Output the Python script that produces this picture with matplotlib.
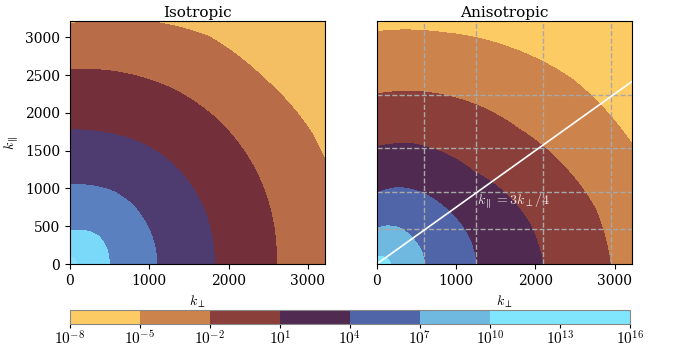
import numpy as np
import matplotlib
matplotlib.use("Agg")
import matplotlib.pyplot as plt

plt.rcParams["font.family"] = "serif"
plt.rcParams["mathtext.fontset"] = "cm"

# ── Dati ─────────────────────────────────────────────────────────
K_MAX = 3217.0
ANGLES = [0, 15, 30, 45, 60, 75, 90]  # gradi, angolo polare nel piano (k_perp, k_par)

# Isotropico: raggio dei bordi tra le regioni (dall'interno verso l'esterno)
iso_radii = [
    [75, 80, 85, 85, 85, 85, 80],
    [492, 500, 508, 515, 495, 462, 441],
    [1094, 1094, 1098, 1110, 1105, 1072, 1045],
    [1818, 1830, 1843, 1852, 1836, 1795, 1772],
    [2600, 2625, 2650, 2665, 2655, 2615, 2570],
    [3500, 3490, 3505, 3465, 3480, 3340, 3175],
]
iso_colors = ["#F4BE62", "#B86C48", "#74303A", "#4E3B70", "#5B80C0", "#7AD8F8", "#86E2FC"]

# Anisotropico: bordi ai livelli log10 = 10, 7, 4, 1, -2, -5
aniso_radii = [
    [170, 165, 150, 130, 110, 97, 90],
    [599, 590, 572, 564, 558, 522, 472],
    [1253, 1218, 1170, 1127, 1100, 1050, 935],
    [2097, 2005, 1870, 1730, 1695, 1650, 1552],
    [2946, 2850, 2675, 2530, 2445, 2355, 2249],
    [3750, 3680, 3560, 3470, 3315, 3170, 3073],
]
aniso_bounds = [10, 7, 4, 1, -2, -5]
cbar_levels = [-8, -5, -2, 1, 4, 7, 10, 13, 16]
aniso_colors = ["#FDCB64", "#CC834C", "#8B3F3A", "#502A50", "#5065A8", "#6FB8E0", "#80E6FD", "#80E6FD"]

# griglia tratteggiata (incroci dei contorni con gli assi)
grid_kperp = [600, 1255, 2100, 2950]
grid_kpar = [470, 950, 1535, 2235]


def build_field(rr, th, radii, vals, v_center, v_out, r_out=6000.0):
    """Campo interpolato linearmente in r tra i bordi letti."""
    rb = [np.zeros_like(rr)] + [np.interp(th, ANGLES, rad) for rad in radii] + [np.full_like(rr, r_out)]
    vb = [v_center] + list(vals) + [v_out]
    z = np.full_like(rr, v_out)
    for k in range(len(rb) - 1):
        m = (rr >= rb[k]) & (rr < rb[k + 1])
        f = (rr - rb[k]) / (rb[k + 1] - rb[k])
        z = np.where(m, vb[k] + f * (vb[k + 1] - vb[k]), z)
    return z


kx = np.linspace(0, K_MAX, 600)
ky = np.linspace(0, K_MAX, 600)
KX, KY = np.meshgrid(kx, ky)
RR = np.hypot(KX, KY)
TH = np.degrees(np.arctan2(KY, KX))

iso_vals = [5.5, 4.5, 3.5, 2.5, 1.5, 0.5]
z_iso = build_field(RR, TH, iso_radii, iso_vals, 7.0, -1.0)
z_aniso = build_field(RR, TH, aniso_radii, aniso_bounds, 16.0, -8.0)

fig = plt.figure(figsize=(6.73, 3.47), dpi=100)
ax1 = fig.add_axes([0.104, 0.239, 0.379, 0.701])
ax2 = fig.add_axes([0.5597, 0.239, 0.379, 0.701])
cax = fig.add_axes([0.104, 0.066, 0.832, 0.0403])

ax1.contourf(KX, KY, z_iso, levels=[-1, 0.5, 1.5, 2.5, 3.5, 4.5, 5.5, 7], colors=iso_colors)
ax1.set_xlim(0, K_MAX)
ax1.set_ylim(0, K_MAX)
ax1.set_xticks([0, 1000, 2000, 3000])
ax1.set_yticks([0, 500, 1000, 1500, 2000, 2500, 3000])
ax1.set_title("Isotropic", fontsize=11, pad=3)
ax1.set_xlabel(r"$k_\perp$", fontsize=10)
ax1.set_ylabel(r"$k_\parallel$", fontsize=10)

cs = ax2.contourf(KX, KY, z_aniso, levels=cbar_levels, colors=aniso_colors)
for x in grid_kperp:
    ax2.axvline(x, color="#A8A8A8", ls="--", lw=1)
for y in grid_kpar:
    ax2.axhline(y, color="#A8A8A8", ls="--", lw=1)
ax2.plot([0, K_MAX], [0, 0.75 * K_MAX], color="white", lw=1.2)
ax2.text(1270, 845, r"$k_\parallel = 3k_\perp/4$", color="white", alpha=0.85,
         fontsize=10, ha="left", va="center")
ax2.set_xlim(0, K_MAX)
ax2.set_ylim(0, K_MAX)
ax2.set_xticks([0, 1000, 2000, 3000])
ax2.set_yticks([])
ax2.set_title("Anisotropic", fontsize=11, pad=3)
ax2.set_xlabel(r"$k_\perp$", fontsize=10)

cbar = fig.colorbar(cs, cax=cax, orientation="horizontal")
cbar.set_ticks(cbar_levels)
cbar.set_ticklabels([f"$10^{{{v}}}$" for v in cbar_levels])
cbar.ax.tick_params(labelsize=11, length=3, pad=1)
cbar.outline.set_edgecolor("#888888")

fig.savefig("out.png", dpi=100)
